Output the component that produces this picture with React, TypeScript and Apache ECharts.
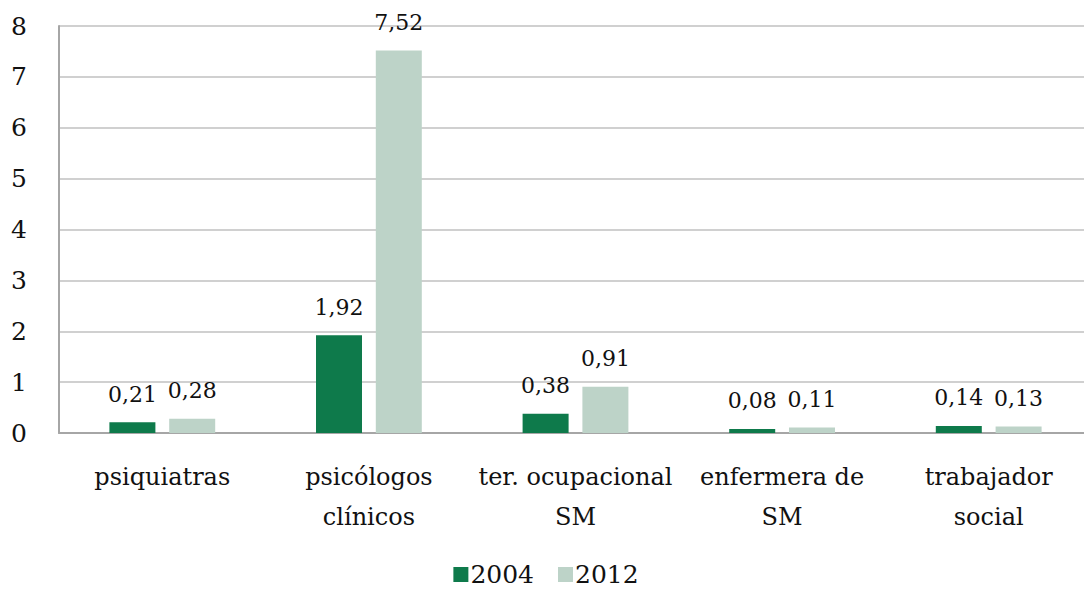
import React, { useEffect, useRef } from "react";
import * as echarts from "echarts";

const categories = ["psiquiatras", "psicólogos\nclínicos", "ter. ocupacional\nSM", "enfermera de\nSM", "trabajador\nsocial"];
const values2004 = [0.21, 1.92, 0.38, 0.08, 0.14];
const values2012 = [0.28, 7.52, 0.91, 0.11, 0.13];
const seriesNames = ["2004", "2012"];

const FONT = "DejaVu Serif";

export default function App() {
  const ref = useRef<HTMLDivElement>(null);
  useEffect(() => {
    if (!ref.current) return;
    const chart = echarts.init(ref.current, undefined, { renderer: "svg" });
    const label = {
      show: true,
      position: "top",
      distance: 17,
      fontFamily: FONT,
      fontSize: 22,
      color: "#111",
      formatter: (p: any) => p.value.toFixed(2).replace(".", ","),
    };
    chart.setOption({
      animation: false,
      grid: { left: 59, right: 0, top: 26, bottom: 161, containLabel: false },
      legend: {
        bottom: 2,
        left: "center",
        itemWidth: 15,
        itemHeight: 15,
        itemGap: 24,
        icon: "rect",
        textStyle: { fontFamily: FONT, fontSize: 25, color: "#111", padding: [0, 0, 0, -3] },
        data: seriesNames,
      },
      xAxis: {
        type: "category",
        data: categories,
        axisLine: { lineStyle: { color: "#a6a6a6", width: 2 } },
        axisTick: { show: false },
        axisLabel: { fontFamily: FONT, fontSize: 24, color: "#111", margin: 24, lineHeight: 40, interval: 0 },
      },
      yAxis: {
        type: "value",
        min: 0,
        max: 8,
        interval: 1,
        axisLine: { show: true, lineStyle: { color: "#a6a6a6", width: 2 } },
        axisTick: { show: false },
        splitLine: { lineStyle: { color: "#d0d0d0", width: 2 } },
        axisLabel: { fontFamily: FONT, fontSize: 25, color: "#111", margin: 32 },
      },
      series: [
        {
          name: seriesNames[0],
          type: "bar",
          data: values2004,
          barWidth: 46,
          barGap: "30%",
          itemStyle: { color: "#0e7a4b" },
          label,
        },
        {
          name: seriesNames[1],
          type: "bar",
          data: values2012,
          barWidth: 46,
          itemStyle: { color: "#bdd3c8" },
          label,
        },
      ],
    });
    return () => chart.dispose();
  }, []);
  return <div ref={ref} style={{ width: 1092, height: 594, margin: -8 }} />;
}
